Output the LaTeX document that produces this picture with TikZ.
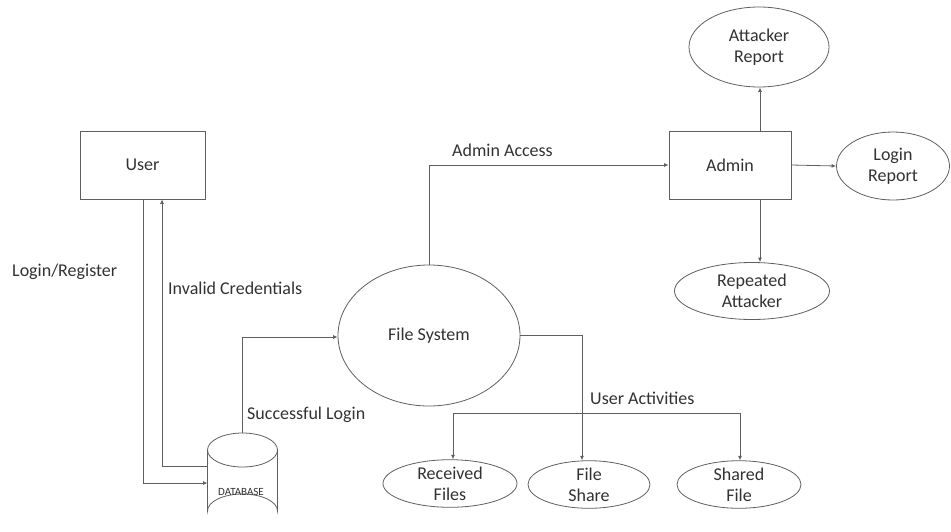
\documentclass[tikz,border=0pt]{standalone}
\usepackage{fontspec}
\setmainfont{Carlito}
\usetikzlibrary{arrows.meta,shapes.geometric}
\definecolor{linec}{RGB}{95,95,95}
\definecolor{textc}{RGB}{50,50,50}
\tikzset{
  every node/.style={font=\fontsize{18}{21}\selectfont, text=textc},
  conn/.style={draw=linec, line width=0.8pt, -{Latex[length=4.5pt,width=4pt]}},
  plain/.style={draw=linec, line width=0.8pt},
  boxnode/.style={draw=linec, line width=0.8pt, rectangle, inner sep=0pt},
  ellnode/.style={draw=linec, line width=0.8pt, ellipse, inner sep=0pt, align=center},
  lbl/.style={inner sep=0pt, anchor=west}
}
\begin{document}
\begin{tikzpicture}[x=1pt,y=-1pt]
\useasboundingbox (0,0) rectangle (951,531);
% nodes
\node[boxnode, minimum width=125pt, minimum height=68pt] (user) at (142.5,165) {User};
\node[boxnode, minimum width=122pt, minimum height=68pt] (admin) at (730,165) {Admin};
\node[ellnode, minimum width=182pt, minimum height=141pt] (fs) at (429,335.5) {File System};
\node[ellnode, minimum width=140pt, minimum height=80pt] (atk) at (759,47) {Attacker\\Report};
\node[ellnode, minimum width=113pt, minimum height=68pt] (lrep) at (893,166) {Login\\Report};
\node[ellnode, minimum width=155pt, minimum height=57pt] (rep) at (752,291) {Repeated\\Attacker};
\node[ellnode, minimum width=134pt, minimum height=47pt] (recv) at (450,483.5) {Received\\Files};
\node[ellnode, minimum width=122pt, minimum height=47pt] (fshare) at (589,484.5) {File\\Share};
\node[ellnode, minimum width=124pt, minimum height=46pt] (shared) at (739,484.5) {Shared\\File};
% database cylinder
\node[inner sep=0pt, minimum width=70pt, minimum height=95pt] (db) at (242.5,480.5) {};
\draw[plain, fill=white] (207.5,450) -- (207.5,511) arc[start angle=180, end angle=360, x radius=35, y radius=17] -- (277.5,450) arc[start angle=0, end angle=-180, x radius=35, y radius=17] -- cycle;
\draw[plain] (207.5,450) arc[start angle=180, end angle=0, x radius=35, y radius=17];
\node[font=\fontsize{11}{12}\selectfont, inner sep=0pt] at (241,492) {DATABASE};
% coordinates for connector ends
\coordinate (dbw1) at (207.5,483);
\coordinate (dbw2) at (207.5,466);
\coordinate (dbn) at (242,433);
% connectors
\draw[conn] (user.south -| 143,0) -- (143,483) -- (dbw1);
\draw[conn] (dbw2) -- (162,466) -- (user.south -| 162,0);
\draw[conn] (dbn) -- (242,337) -- (fs.west |- 0,337);
\draw[conn] (fs.north) -- (429,165) -- (admin.west);
\draw[conn] (admin.north -| 760,0) -- (atk.south -| 760,0);
\draw[conn] (admin.south -| 760,0) -- (rep.north -| 760,0);
\draw[conn] (admin.east) -- (lrep.west);
\draw[conn] (fs.east) -- (582,335.5) -- (fshare.north -| 582,0);
\draw[plain] (453,413) -- (740,413);
\draw[conn] (453,413) -- (recv.north -| 453,0);
\draw[conn] (740,413) -- (shared.north -| 740,0);
% labels
\node[lbl] at (12,272) {Login/Register};
\node[lbl] at (168,288) {Invalid Credentials};
\node[lbl] at (247,415) {Successful Login};
\node[lbl] at (452,150) {Admin Access};
\node[lbl] at (590,398) {User Activities};
\end{tikzpicture}
\end{document}
